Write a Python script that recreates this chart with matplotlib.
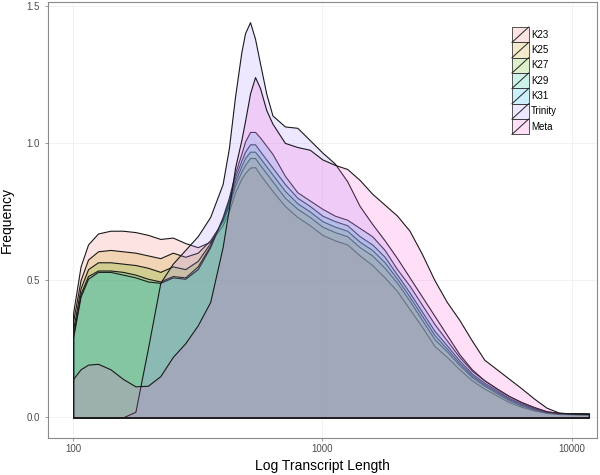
import numpy as np
import matplotlib
matplotlib.use('Agg')
import matplotlib.pyplot as plt
from matplotlib.colors import to_rgba
from matplotlib.legend_handler import HandlerBase
from matplotlib.patches import Rectangle, Patch
from matplotlib.lines import Line2D
from matplotlib.ticker import NullLocator

plt.rcParams['font.family'] = ['Liberation Sans', 'DejaVu Sans']

# density of log10 transcript length
log_length = [2.00, 2.03, 2.06, 2.10, 2.15, 2.20, 2.25, 2.30, 2.35, 2.40,
              2.45, 2.50, 2.55, 2.60, 2.625, 2.65, 2.675, 2.69, 2.71, 2.73,
              2.75, 2.775, 2.80, 2.85, 2.90, 2.95, 3.00, 3.05, 3.10, 3.15,
              3.20, 3.25, 3.30, 3.35, 3.40, 3.45, 3.50, 3.55, 3.60, 3.65,
              3.70, 3.75, 3.80, 3.85, 3.90, 3.95, 4.00, 4.05, 4.07]

k23 = [0.38, 0.55, 0.63, 0.67, 0.68, 0.68, 0.675, 0.665, 0.65, 0.655,
       0.635, 0.62, 0.64, 0.70, 0.75, 0.82, 0.87, 0.89, 0.91, 0.912,
       0.885, 0.855, 0.825, 0.77, 0.73, 0.70, 0.665, 0.645, 0.63, 0.59,
       0.555, 0.51, 0.46, 0.395, 0.33, 0.26, 0.22, 0.175, 0.135, 0.105,
       0.08, 0.055, 0.038, 0.025, 0.016, 0.012, 0.011, 0.010, 0.010]

k25 = [0.35, 0.50, 0.575, 0.605, 0.61, 0.605, 0.60, 0.59, 0.58, 0.60,
       0.585, 0.60, 0.645, 0.715, 0.77, 0.845, 0.895, 0.92, 0.945, 0.945,
       0.92, 0.89, 0.86, 0.80, 0.76, 0.73, 0.695, 0.675, 0.66, 0.62,
       0.59, 0.545, 0.49, 0.425, 0.355, 0.285, 0.24, 0.19, 0.147, 0.115,
       0.088, 0.062, 0.043, 0.028, 0.018, 0.013, 0.012, 0.011, 0.011]

k27 = [0.32, 0.47, 0.54, 0.565, 0.565, 0.56, 0.555, 0.545, 0.53, 0.55,
       0.54, 0.57, 0.635, 0.72, 0.78, 0.86, 0.915, 0.945, 0.968, 0.968,
       0.945, 0.915, 0.885, 0.825, 0.78, 0.75, 0.715, 0.695, 0.68, 0.64,
       0.61, 0.565, 0.505, 0.44, 0.37, 0.30, 0.25, 0.198, 0.153, 0.12,
       0.093, 0.066, 0.046, 0.030, 0.019, 0.014, 0.013, 0.012, 0.012]

k29 = [0.30, 0.45, 0.515, 0.535, 0.535, 0.53, 0.52, 0.505, 0.495, 0.515,
       0.51, 0.55, 0.625, 0.725, 0.79, 0.875, 0.935, 0.968, 0.995, 0.995,
       0.97, 0.94, 0.91, 0.85, 0.80, 0.77, 0.735, 0.715, 0.70, 0.66,
       0.63, 0.585, 0.52, 0.455, 0.385, 0.315, 0.262, 0.207, 0.16, 0.126,
       0.098, 0.07, 0.05, 0.033, 0.020, 0.015, 0.014, 0.013, 0.013]

k31 = [0.29, 0.44, 0.505, 0.53, 0.53, 0.52, 0.51, 0.495, 0.49, 0.51,
       0.505, 0.54, 0.62, 0.73, 0.80, 0.89, 0.96, 1.005, 1.04, 1.04,
       1.02, 0.99, 0.96, 0.88, 0.82, 0.79, 0.76, 0.735, 0.72, 0.69,
       0.66, 0.61, 0.54, 0.48, 0.41, 0.34, 0.28, 0.22, 0.17, 0.135,
       0.105, 0.077, 0.055, 0.037, 0.022, 0.016, 0.015, 0.014, 0.014]

trinity = [0.0, 0.0, 0.0, 0.0, 0.0, 0.0, 0.02, 0.25, 0.49, 0.56,
           0.61, 0.66, 0.73, 0.85, 0.98, 1.17, 1.33, 1.40, 1.44, 1.38,
           1.29, 1.18, 1.10, 1.06, 1.055, 1.01, 0.965, 0.925, 0.86, 0.77,
           0.705, 0.645, 0.58, 0.51, 0.44, 0.37, 0.30, 0.23, 0.175, 0.135,
           0.105, 0.077, 0.055, 0.037, 0.022, 0.016, 0.015, 0.014, 0.014]

meta = [0.14, 0.175, 0.192, 0.195, 0.175, 0.14, 0.113, 0.115, 0.15, 0.22,
        0.27, 0.335, 0.42, 0.62, 0.76, 0.91, 1.01, 1.08, 1.18, 1.24,
        1.20, 1.12, 1.07, 1.00, 0.985, 0.975, 0.94, 0.92, 0.905, 0.865,
        0.815, 0.775, 0.735, 0.68, 0.595, 0.50, 0.42, 0.355, 0.28, 0.21,
        0.175, 0.14, 0.105, 0.068, 0.035, 0.017, 0.014, 0.013, 0.012]

names = ['K23', 'K25', 'K27', 'K29', 'K31', 'Trinity', 'Meta']
series = [k23, k25, k27, k29, k31, trinity, meta]
colours = ['#F8766D', '#C49A00', '#53B400', '#00C094', '#00B6EB', '#A58AFF', '#FB61D7']
fill_alpha = 0.2


class DensityKey(HandlerBase):
    # ggplot style key: filled square with a diagonal stroke
    def create_artists(self, legend, orig_handle, xdescent, ydescent,
                       width, height, fontsize, trans):
        box = Rectangle((-xdescent, -ydescent), width, height,
                        facecolor=orig_handle.get_facecolor(),
                        edgecolor='#3a3a3a', lw=0.6, transform=trans)
        diag = Line2D([-xdescent, -xdescent + width], [-ydescent, -ydescent + height],
                      color='#222222', lw=0.7, transform=trans)
        return [box, diag]


fig = plt.figure(figsize=(6, 4.75), dpi=100)
ax = fig.add_axes([0.0805, 0.0785, 0.9145, 0.9173])

x = 10 ** np.array(log_length)
for i, (name, vals, col) in enumerate(zip(names, series, colours)):
    ax.fill_between(x, 0, vals, facecolor=to_rgba(col, fill_alpha),
                    edgecolor='#1a1a1a', linewidth=0.8, zorder=2 + i)

ax.set_xscale('log')
ax.set_xlim(10 ** 1.9005, 10 ** 4.1023)
ax.set_ylim(-0.0743, 1.5135)
ax.set_xticks([100, 1000, 10000])
ax.set_xticklabels(['100', '1000', '10000'])
ax.xaxis.set_minor_locator(NullLocator())
ax.set_yticks([0.0, 0.5, 1.0, 1.5])
ax.set_yticklabels(['0.0', '0.5', '1.0', '1.5'])

ax.grid(True, color='#F0F0F0', linewidth=0.6, zorder=0)
ax.set_axisbelow(True)
for sp in ax.spines.values():
    sp.set_color('#8a8a8a')
    sp.set_linewidth(0.8)
ax.tick_params(axis='both', colors='#8a8a8a', length=2.4, width=0.6,
               labelsize=7, labelcolor='#4D4D4D')
ax.tick_params(axis='y', pad=3.5)
ax.tick_params(axis='x', pad=2)

ax.set_xlabel('Log Transcript Length', fontsize=10, labelpad=4)
ax.set_ylabel('Frequency', fontsize=10, labelpad=9)

handles = [Patch(facecolor=to_rgba(c, fill_alpha), label=n) for n, c in zip(names, colours)]
ax.legend(handles=handles, loc='upper left', bbox_to_anchor=(0.845, 0.9425),
          frameon=False, fontsize=7, handler_map={Patch: DensityKey()},
          handlelength=1.72, handleheight=2.05, labelspacing=0.0,
          handletextpad=0.25, borderpad=0, borderaxespad=0)

fig.savefig('out.png', dpi=100)
